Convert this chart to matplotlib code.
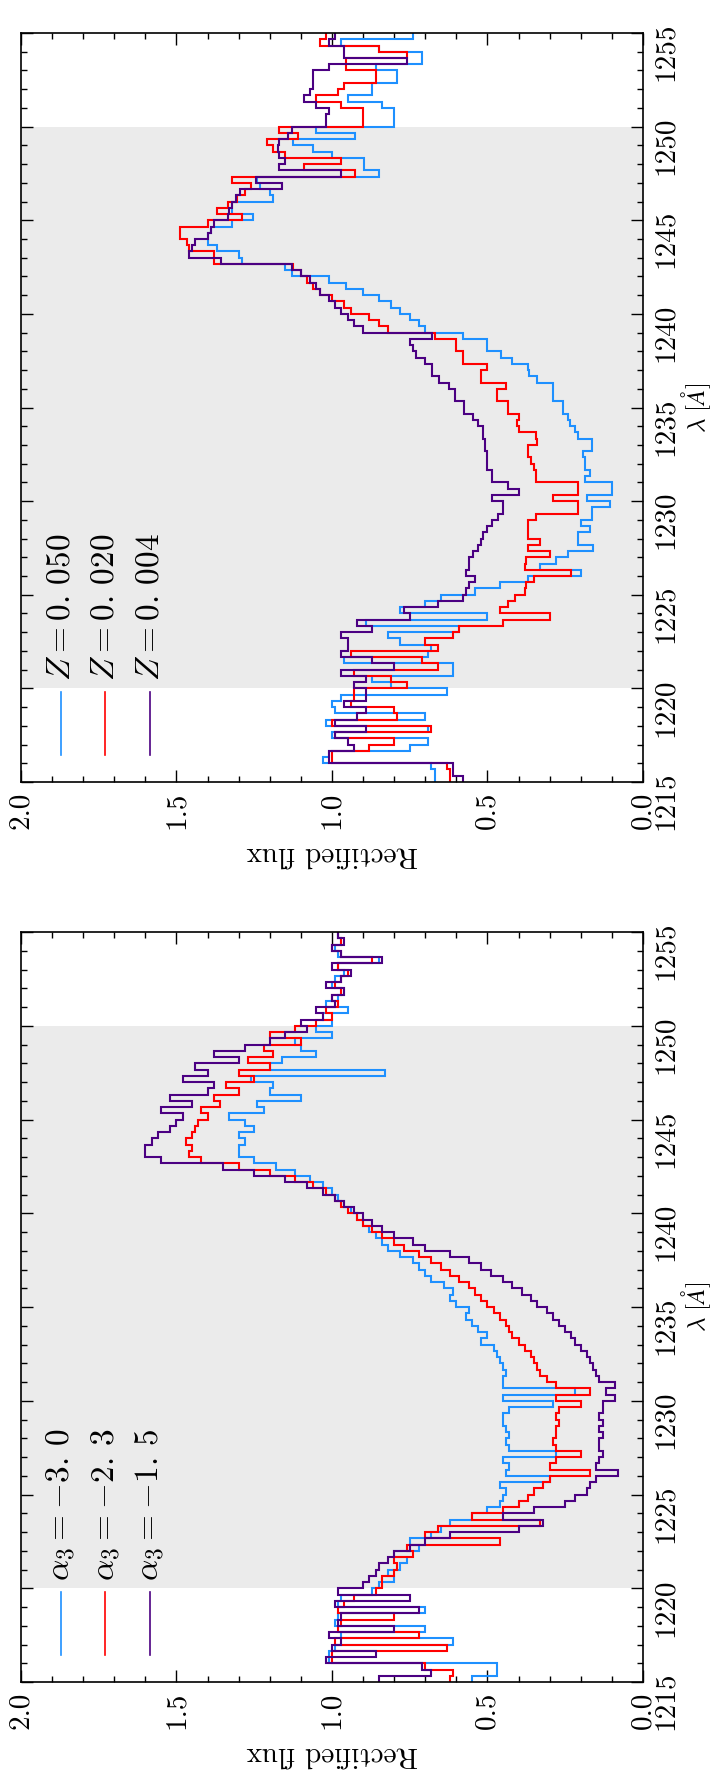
import numpy as np
import matplotlib
matplotlib.use('Agg')
import matplotlib.pyplot as plt
from matplotlib.ticker import MultipleLocator

plt.rcParams['font.family'] = ['cmr10', 'DejaVu Serif']
plt.rcParams['mathtext.fontset'] = 'cm'
plt.rcParams['axes.unicode_minus'] = False

# wavelength range of the binned spectra (Angstrom), shaded window
lam_min, lam_max = 1215.0, 1255.0
shade = (1220.0, 1250.0)

# --- right panel in the original (metallicity) ---
z_labels = [r'$Z=0.\,050$', r'$Z=0.\,020$', r'$Z=0.\,004$']
z_050 = [0.67, 0.67, 0.68, 1.03, 1.01, 0.75, 0.69, 1.00, 0.69, 1.02,
         0.70, 0.99, 1.00, 0.97, 0.63, 0.81, 0.87, 0.61, 0.61, 0.96,
         0.69, 0.68, 0.78, 0.82, 0.59, 0.89, 0.50, 0.78, 0.70, 0.65,
         0.54, 0.46, 0.37, 0.20, 0.33, 0.28, 0.24, 0.16, 0.21, 0.21,
         0.17, 0.20, 0.164, 0.164, 0.105, 0.18, 0.098, 0.098, 0.186, 0.17,
         0.186, 0.186, 0.193, 0.164, 0.164, 0.21, 0.22, 0.235, 0.242, 0.257,
         0.257, 0.29, 0.29, 0.29, 0.34, 0.365, 0.37, 0.42, 0.455, 0.50,
         0.50, 0.58, 0.70, 0.72, 0.75, 0.78, 0.81, 0.85, 0.90, 0.955,
         1.01, 1.13, 1.15, 1.29, 1.30, 1.37, 1.40, 1.40, 1.39, 1.32,
         1.255, 1.32, 1.32, 1.19, 1.20, 1.23, 1.24, 0.85, 0.896, 0.896,
         1.00, 1.06, 1.125, 0.925, 1.05, 0.80, 0.80, 0.80, 0.84, 0.95,
         0.87, 0.87, 0.79, 0.79, 0.86, 0.71, 0.71, 0.85, 0.97, 0.74]
z_020 = [0.62, 0.62, 0.63, 1.00, 1.00, 0.88, 0.80, 0.99, 0.68, 1.00,
         0.79, 0.80, 0.94, 0.93, 0.93, 0.76, 0.81, 0.93, 0.66, 0.71,
         0.94, 0.66, 0.70, 0.61, 0.59, 0.45, 0.30, 0.46, 0.435, 0.41,
         0.38, 0.375, 0.35, 0.23, 0.38, 0.375, 0.30, 0.37, 0.33, 0.37,
         0.37, 0.37, 0.345, 0.21, 0.21, 0.29, 0.21, 0.21, 0.345, 0.345,
         0.35, 0.36, 0.37, 0.37, 0.34, 0.345, 0.40, 0.405, 0.40, 0.435,
         0.435, 0.47, 0.47, 0.44, 0.52, 0.52, 0.50, 0.58, 0.58, 0.60,
         0.60, 0.67, 0.82, 0.85, 0.88, 0.94, 0.96, 1.00, 1.04, 1.06,
         1.08, 1.10, 1.125, 1.38, 1.38, 1.46, 1.467, 1.49, 1.49, 1.40,
         1.29, 1.37, 1.335, 1.305, 1.28, 1.26, 1.32, 0.925, 1.09, 0.97,
         1.15, 1.19, 1.21, 1.11, 1.17, 0.90, 0.90, 0.90, 0.97, 1.05,
         0.98, 0.96, 0.86, 0.86, 0.955, 0.955, 0.76, 0.85, 1.04, 1.02]
z_004 = [0.58, 0.61, 0.61, 1.01, 1.01, 0.93, 0.95, 0.99, 0.89, 0.99,
         0.92, 0.89, 0.96, 0.89, 0.89, 0.93, 0.89, 0.97, 0.80, 0.87,
         0.97, 0.95, 0.95, 0.97, 0.87, 0.92, 0.75, 0.77, 0.66, 0.58,
         0.57, 0.56, 0.54, 0.57, 0.56, 0.56, 0.545, 0.53, 0.52, 0.515,
         0.50, 0.485, 0.465, 0.45, 0.45, 0.486, 0.40, 0.435, 0.486, 0.486,
         0.50, 0.50, 0.50, 0.508, 0.508, 0.515, 0.515, 0.53, 0.545, 0.574,
         0.574, 0.603, 0.603, 0.625, 0.655, 0.677, 0.677, 0.70, 0.73, 0.74,
         0.75, 0.677, 0.90, 0.93, 0.95, 0.97, 0.99, 1.01, 1.04, 1.05,
         1.07, 1.10, 1.13, 1.357, 1.46, 1.45, 1.44, 1.40, 1.39, 1.38,
         1.335, 1.33, 1.32, 1.31, 1.295, 1.16, 1.245, 0.97, 1.17, 1.15,
         1.17, 1.175, 1.17, 1.14, 1.13, 1.02, 1.02, 1.01, 1.05, 1.09,
         1.07, 1.06, 1.06, 1.06, 1.01, 0.76, 0.96, 0.96, 1.01, 0.99]

# --- left panel in the original (IMF slope) ---
a_labels = [r'$\alpha_3=-3.\,0$', r'$\alpha_3=-2.\,3$', r'$\alpha_3=-1.\,5$']
a_30 = [0.55, 0.47, 0.47, 1.01, 1.01, 0.99, 0.61, 0.97, 0.70, 0.99,
        0.98, 0.70, 0.98, 0.97, 0.87, 0.85, 0.80, 0.82, 0.78, 0.76,
        0.80, 0.72, 0.75, 0.68, 0.65, 0.62, 0.55, 0.50, 0.46, 0.45,
        0.44, 0.46, 0.30, 0.44, 0.43, 0.45, 0.28, 0.43, 0.44, 0.43,
        0.44, 0.45, 0.45, 0.43, 0.29, 0.45, 0.22, 0.45, 0.45, 0.44,
        0.45, 0.46, 0.47, 0.48, 0.52, 0.50, 0.53, 0.55, 0.57, 0.56,
        0.60, 0.62, 0.61, 0.64, 0.68, 0.70, 0.72, 0.74, 0.78, 0.82,
        0.84, 0.86, 0.88, 0.90, 0.92, 0.94, 0.96, 0.98, 1.00, 1.03,
        1.07, 1.12, 1.18, 1.25, 1.30, 1.30, 1.28, 1.30, 1.25, 1.28,
        1.33, 1.22, 1.24, 1.10, 1.20, 1.19, 1.26, 0.83, 1.20, 1.16,
        1.05, 1.10, 1.12, 1.00, 1.05, 1.00, 1.03, 0.95, 1.02, 0.98,
        0.96, 1.00, 0.99, 0.96, 0.98, 0.85, 0.98, 0.99, 0.97, 0.98]
a_23 = [0.62, 0.61, 0.70, 1.00, 1.00, 0.63, 0.99, 0.72, 0.98, 0.97,
        0.80, 0.98, 0.96, 0.93, 0.86, 0.84, 0.84, 0.80, 0.79, 0.80,
        0.74, 0.76, 0.46, 0.70, 0.66, 0.33, 0.55, 0.45, 0.40, 0.37,
        0.35, 0.32, 0.30, 0.17, 0.30, 0.28, 0.20, 0.28, 0.29, 0.28,
        0.28, 0.27, 0.28, 0.27, 0.20, 0.28, 0.17, 0.28, 0.31, 0.33,
        0.34, 0.35, 0.36, 0.38, 0.40, 0.42, 0.43, 0.44, 0.46, 0.48,
        0.50, 0.52, 0.54, 0.56, 0.59, 0.62, 0.65, 0.68, 0.72, 0.77,
        0.80, 0.84, 0.87, 0.90, 0.92, 0.95, 0.97, 0.99, 1.02, 1.06,
        1.12, 1.20, 1.30, 1.42, 1.46, 1.45, 1.47, 1.45, 1.44, 1.43,
        1.40, 1.42, 1.36, 1.38, 1.30, 1.34, 1.25, 1.30, 1.20, 1.27,
        1.19, 1.22, 1.10, 1.20, 1.12, 1.05, 1.00, 1.02, 0.98, 1.00,
        0.97, 0.99, 0.97, 0.95, 0.98, 0.87, 0.97, 1.00, 0.97, 0.98]
a_15 = [0.85, 0.68, 0.71, 1.02, 0.86, 1.00, 0.97, 1.01, 0.80, 0.98,
        0.97, 0.72, 0.99, 0.75, 0.98, 0.90, 0.88, 0.86, 0.85, 0.82,
        0.80, 0.75, 0.70, 0.62, 0.40, 0.32, 0.45, 0.35, 0.25, 0.22,
        0.18, 0.17, 0.15, 0.08, 0.15, 0.14, 0.13, 0.14, 0.14, 0.13,
        0.14, 0.13, 0.14, 0.13, 0.13, 0.09, 0.12, 0.09, 0.14, 0.15,
        0.16, 0.17, 0.18, 0.20, 0.22, 0.23, 0.25, 0.27, 0.29, 0.31,
        0.34, 0.36, 0.39, 0.42, 0.45, 0.49, 0.52, 0.56, 0.62, 0.70,
        0.74, 0.80, 0.84, 0.87, 0.90, 0.93, 0.96, 0.99, 1.03, 1.08,
        1.15, 1.25, 1.35, 1.55, 1.60, 1.60, 1.58, 1.56, 1.52, 1.50,
        1.48, 1.55, 1.45, 1.52, 1.40, 1.38, 1.48, 1.40, 1.44, 1.30,
        1.38, 1.28, 1.20, 1.15, 1.08, 1.10, 1.03, 1.05, 0.99, 1.00,
        0.96, 1.02, 0.97, 0.94, 1.00, 0.84, 0.97, 1.00, 0.96, 0.98]

colors = ['#1E90FF', '#FF0000', '#4B0082']

fig = plt.figure(figsize=(7.14, 17.76), dpi=100)
ax_top = fig.add_axes([0.0294, 0.5597, 0.8711, 0.4217])
ax_bot = fig.add_axes([0.0294, 0.0529, 0.8711, 0.4223])

panels = [(ax_top, [z_050, z_020, z_004], z_labels),
          (ax_bot, [a_30, a_23, a_15], a_labels)]

for ax, series, labels in panels:
    ax.axhspan(shade[0], shade[1], color='#ebebeb', lw=0, zorder=0)
    for vals, c in zip(series, colors):
        edges = np.linspace(lam_min, lam_max, len(vals) + 1)
        ax.stairs(vals, edges, orientation='horizontal', baseline=None,
                  color=c, lw=1.5, zorder=2)

    # legend drawn by hand so that it is rotated like the rest
    for k, (lab, c) in enumerate(zip(labels, colors)):
        xk = 0.064 + 0.0715 * k
        ax.plot([xk, xk], [0.036, 0.12], color=c, lw=1.2,
                transform=ax.transAxes)
        ax.text(xk, 0.135, lab, rotation=90, ha='center', va='bottom',
                fontsize=24, transform=ax.transAxes)

    ax.set_xlim(2.0, 0.0)
    ax.set_ylim(lam_min, lam_max)
    ax.set_xticks([0.0, 0.5, 1.0, 1.5, 2.0],
                  labels=['0.0', '0.5', '1.0', '1.5', '2.0'])
    ax.set_yticks([1215, 1220, 1225, 1230, 1235, 1240, 1245, 1250, 1255],
                  labels=['1215', '1220', '1225', '1230', '1235', '1240',
                          '1245', '1250', '1255'])
    ax.xaxis.set_minor_locator(MultipleLocator(0.1))
    ax.yaxis.set_minor_locator(MultipleLocator(1))
    ax.tick_params(which='both', direction='in', top=True, bottom=True,
                   left=True, right=True, labelleft=False, labelright=True,
                   width=1.0)
    ax.tick_params(which='major', length=8.6, pad=7, labelsize=21,
                   labelrotation=90)
    ax.tick_params(which='minor', length=4.3)
    for sp in ax.spines.values():
        sp.set_linewidth(1.2)

    ax.set_xlabel('Rectified flux', rotation=180, fontsize=21, labelpad=8)
    ax.set_ylabel(r'$\lambda\ [\AA]$', rotation=90, fontsize=18)
    ax.yaxis.set_label_position('right')
    ax.yaxis.set_label_coords(1.058, 0.5)

plt.savefig('out.png', dpi=100)
